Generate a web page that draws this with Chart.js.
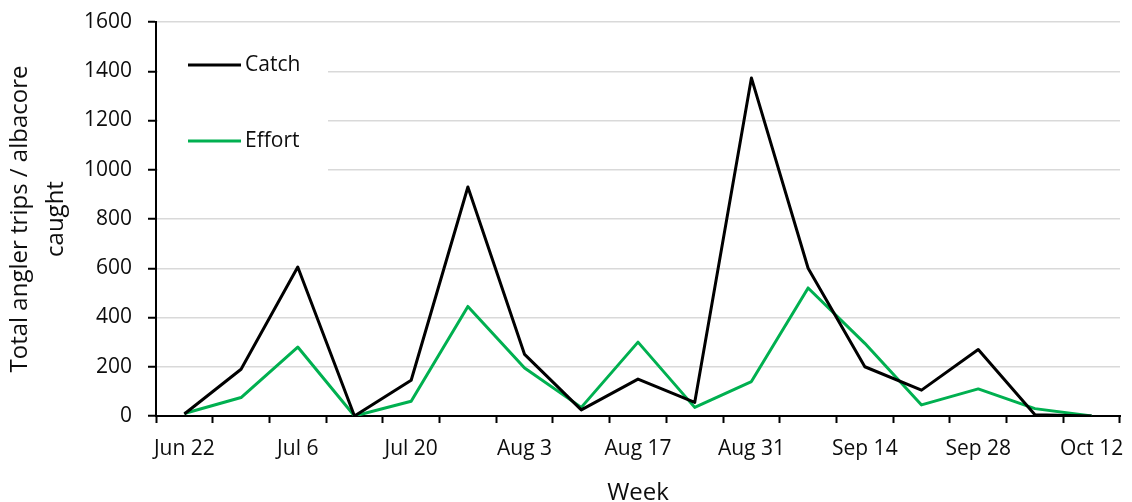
<!DOCTYPE html>
<html>
<head>
<meta charset="utf-8">
<script src="https://cdn.jsdelivr.net/npm/chart.js@4/dist/chart.umd.min.js"></script>
<style>
  html, body { margin: 0; padding: 0; background: #ffffff; }
  #wrap { width: 1132px; height: 502px; position: relative; }
</style>
</head>
<body>
<div id="wrap"><canvas id="chart" width="1132" height="502"></canvas></div>
<script>
// Weekly albacore catch and angler effort
const weeks = ['Jun 22', 'Jun 29', 'Jul 6', 'Jul 13', 'Jul 20', 'Jul 27', 'Aug 3', 'Aug 10',
  'Aug 17', 'Aug 24', 'Aug 31', 'Sep 7', 'Sep 14', 'Sep 21', 'Sep 28', 'Oct 5', 'Oct 12'];
const catchValues = [8, 190, 605, 0, 145, 930, 250, 25, 150, 55, 1373, 600, 200, 105, 270, 5, 0];
const effortValues = [10, 75, 280, 0, 60, 445, 195, 35, 300, 35, 140, 520, 295, 45, 110, 30, 0];
const yTicks = [0, 200, 400, 600, 800, 1000, 1200, 1400, 1600];

const FONT = "'Open Sans', 'Noto Sans', sans-serif";
const TEXT = '#0d0d0d';
const GREEN = '#00B050';

// Legend drawn inside the plot area on a white panel
const insideLegend = {
  id: 'insideLegend',
  beforeDatasetsDraw(chart) {
    const ctx = chart.ctx;
    ctx.save();
    ctx.fillStyle = '#ffffff';
    ctx.fillRect(158, 34, 170, 140);
    const items = [
      { label: 'Catch', color: '#000000', y: 65 },
      { label: 'Effort', color: GREEN, y: 141 }
    ];
    ctx.lineWidth = 3;
    ctx.font = '21px ' + FONT;
    ctx.textBaseline = 'middle';
    ctx.textAlign = 'left';
    items.forEach(it => {
      ctx.strokeStyle = it.color;
      ctx.beginPath();
      ctx.moveTo(188, it.y);
      ctx.lineTo(241, it.y);
      ctx.stroke();
      ctx.fillStyle = TEXT;
      ctx.fillText(it.label, 245, it.y);
    });
    ctx.restore();
  }
};

new Chart(document.getElementById('chart'), {
  type: 'line',
  data: {
    labels: weeks,
    datasets: [
      {
        label: 'Catch',
        data: catchValues,
        borderColor: '#000000',
        backgroundColor: '#000000',
        borderWidth: 3,
        pointRadius: 0,
        tension: 0,
        borderJoinStyle: 'round'
      },
      {
        label: 'Effort',
        data: effortValues,
        borderColor: GREEN,
        backgroundColor: GREEN,
        borderWidth: 3,
        pointRadius: 0,
        tension: 0,
        borderJoinStyle: 'round'
      }
    ]
  },
  options: {
    responsive: false,
    animation: false,
    layout: { padding: { top: 22, right: 12, left: 0, bottom: 0 } },
    plugins: {
      legend: { display: false },
      tooltip: { enabled: false }
    },
    scales: {
      x: {
        type: 'category',
        offset: true,
        afterFit(scale) {
          scale.height = 86;
          scale.paddingLeft = 0;
          scale.paddingRight = 0;
        },
        border: { display: true, color: '#000000', width: 2 },
        grid: {
          offset: true,
          drawOnChartArea: false,
          drawTicks: true,
          tickLength: 7,
          tickWidth: 2,
          tickColor: '#000000'
        },
        ticks: {
          autoSkip: false,
          maxRotation: 0,
          padding: 13,
          color: TEXT,
          font: { family: FONT, size: 21 },
          callback(value, index) {
            return index % 2 === 0 ? weeks[index] : '';
          }
        },
        title: {
          display: true,
          text: 'Week',
          color: TEXT,
          font: { family: FONT, size: 24, lineHeight: 1 },
          padding: { top: 0, bottom: -3 }
        }
      },
      y: {
        min: 0,
        max: 1600,
        afterFit(scale) {
          scale.width = 156;
          scale.paddingTop = 0;
          scale.paddingBottom = 0;
        },
        afterBuildTicks(scale) { scale.ticks = yTicks.map(v => ({ value: v })); },
        border: { display: true, color: '#000000', width: 2 },
        grid: {
          color: '#d9d9d9',
          lineWidth: 1.5,
          drawTicks: true,
          tickLength: 8,
          tickWidth: 2,
          tickColor: '#000000'
        },
        ticks: {
          padding: 16,
          color: TEXT,
          font: { family: FONT, size: 21 },
          callback(value) { return String(value); }
        },
        title: {
          display: true,
          text: ['Total angler trips / albacore', 'caught'],
          color: TEXT,
          font: { family: FONT, size: 24, lineHeight: 1.5 },
          padding: { top: 2, bottom: 0 }
        }
      }
    }
  },
  plugins: [insideLegend]
});
</script>
</body>
</html>
